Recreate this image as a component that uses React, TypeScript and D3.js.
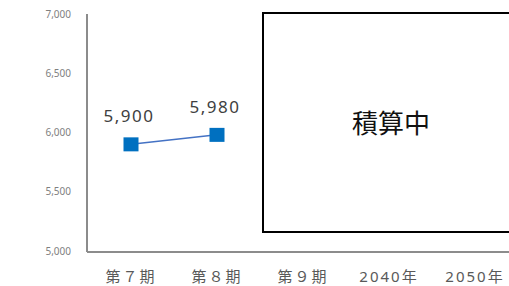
import React from 'react';
import * as d3 from 'd3';

const categories = ['第７期', '第８期', '第９期', '2040年', '2050年'];
const values = [5900, 5980];
const yTicks = [5000, 5500, 6000, 6500, 7000];
const boxText = '積算中';

const W = 509;
const H = 286;

const App: React.FC = () => {
  const x = d3.scaleBand<string>().domain(categories).range([88, 518]);
  const y = d3.scaleLinear().domain([5000, 7000]).range([251, 14]);
  const fmt = d3.format(',');

  const pts = values.map((v, i) => ({ cat: categories[i], v }));
  const cx = (c: string) => (x(c) ?? 0) + x.bandwidth() / 2;

  const line = d3
    .line<{ cat: string; v: number }>()
    .x((d) => cx(d.cat))
    .y((d) => y(d.v));

  const font = '"Noto Sans", "Noto Sans CJK JP", sans-serif';

  // open-ended box (runs to the right edge)
  const box = d3.path();
  box.moveTo(W, 13);
  box.lineTo(263, 13);
  box.lineTo(263, 232);
  box.lineTo(W, 232);

  return (
    <svg
      width={W}
      height={H}
      style={{ position: 'absolute', left: 0, top: 0, background: '#fff' }}
    >
      {/* y tick labels */}
      {yTicks.map((t) => (
        <text
          key={t}
          x={71}
          y={y(t)}
          dy="0.35em"
          textAnchor="end"
          fontSize={10}
          fill="#7f7f7f"
          fontFamily={font}
        >
          {fmt(t)}
        </text>
      ))}

      {/* axes */}
      <line x1={87} x2={87} y1={14} y2={y(5000) + 1} stroke="#8c8c8c" strokeWidth={2} />
      <line x1={87} x2={W} y1={y(5000) + 1} y2={y(5000) + 1} stroke="#8c8c8c" strokeWidth={2} />

      {/* category labels */}
      {categories.map((c) => (
        <text
          key={c}
          x={cx(c)}
          y={282}
          textAnchor="middle"
          fontSize={15}
          letterSpacing={2}
          fill="#595959"
          fontFamily={font}
        >
          {c}
        </text>
      ))}

      {/* series */}
      <path d={line(pts) ?? ''} fill="none" stroke="#4472c4" strokeWidth={1.5} />
      {pts.map((d) => (
        <rect
          key={d.cat}
          x={cx(d.cat) - 7.5}
          y={y(d.v) - 7}
          width={15}
          height={14}
          fill="#0070c0"
        />
      ))}
      {pts.map((d) => (
        <text
          key={'l' + d.cat}
          x={cx(d.cat) - 2}
          y={y(d.v) - 22}
          textAnchor="middle"
          fontSize={17}
          letterSpacing={1.5}
          fill="#404040"
          fontFamily={font}
        >
          {fmt(d.v)}
        </text>
      ))}

      {/* estimating box */}
      <rect x={263} y={13} width={W - 263} height={219} fill="#fff" />
      <path d={box.toString()} fill="none" stroke="#000" strokeWidth={2} />
      <text
        x={391}
        y={124}
        dy="0.35em"
        textAnchor="middle"
        fontSize={26}
        fill="#111"
        fontFamily='"Noto Sans CJK JP", sans-serif'
      >
        {boxText}
      </text>
    </svg>
  );
};

export default App;
